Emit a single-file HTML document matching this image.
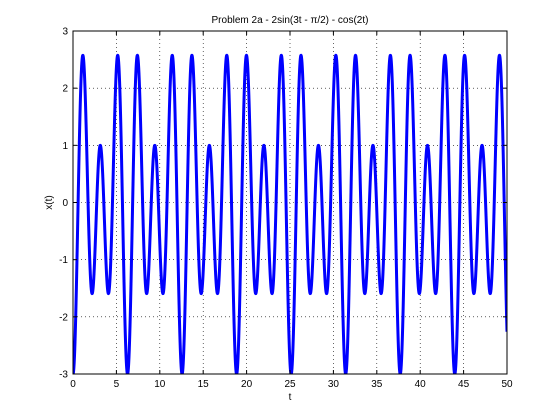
<!DOCTYPE html>
<html><head><meta charset="utf-8"><style>
html,body{margin:0;padding:0;background:#fff;}
svg{display:block;font-family:"Liberation Sans",sans-serif;}
</style></head><body>
<svg id="chart" width="560" height="420">
<rect width="560" height="420" fill="#fff"/>
</svg>
<script>
const xTicks=[0,5,10,15,20,25,30,35,40,45,50];
const yTicks=[-3,-2,-1,0,1,2,3];
// series: x(t) = sum amp[i]*cos(freq[i]*t)  (from 2sin(3t-pi/2)-cos(2t))
const amps=[-2,-1];
const freqs=[3,2];
const tRange=[0,50];
const nSamples=5001;
const L=73,R=507,T=31,B=374;
const xs=v=>L+(v-0)/(50-0)*(R-L);
const ys=v=>B-(v+3)/6*(B-T);
const svg=document.getElementById('chart');
const NS='http://www.w3.org/2000/svg';
function mk(tag,attrs,parent){const e=document.createElementNS(NS,tag);for(const k in attrs)e.setAttribute(k,attrs[k]);(parent||svg).appendChild(e);return e;}
const grid=mk('g',{});


xTicks.forEach(v=>{if(v>0&&v<50){mk('line',{x1:xs(v),x2:xs(v),y1:T,y2:B,stroke:'#000','stroke-width':0.6,'stroke-dasharray':'1,3'},grid);}});
yTicks.forEach(v=>{if(v>-3&&v<3){mk('line',{x1:L,x2:R,y1:ys(v),y2:ys(v),stroke:'#000','stroke-width':0.6,'stroke-dasharray':'1,3'},grid);}});
// series
let d='';
for(let i=0;i<nSamples;i++){const t=tRange[0]+(tRange[1]-tRange[0])*i/(nSamples-1);let x=0;for(let k=0;k<amps.length;k++)x+=amps[k]*Math.cos(freqs[k]*t);d+=(i?'L':'M')+xs(t).toFixed(2)+' '+ys(x).toFixed(2);}
const clip=mk('clipPath',{id:'cp'});mk('rect',{x:L,y:T,width:R-L,height:B-T},clip);
const line=mk('path',{d:d,fill:'none',stroke:'#0000ff','stroke-width':3,'clip-path':'url(#cp)','stroke-linejoin':'round'});


// axes box
const box=mk('rect',{x:L,y:T,width:R-L,height:B-T,fill:'none',stroke:'#000','stroke-width':1});


xTicks.forEach(v=>{
 mk('line',{x1:xs(v),x2:xs(v),y1:B,y2:B-4,stroke:'#000'});mk('line',{x1:xs(v),x2:xs(v),y1:T,y2:T+4,stroke:'#000'});
 const tx=mk('text',{x:xs(v),y:B+13,'font-size':10,'text-anchor':'middle'});tx.textContent=v;
 
 
});
yTicks.forEach(v=>{
 mk('line',{x1:L,x2:L+4,y1:ys(v),y2:ys(v),stroke:'#000'});mk('line',{x1:R,x2:R-4,y1:ys(v),y2:ys(v),stroke:'#000'});
 const tx=mk('text',{x:L-5,y:ys(v)+3.5,'font-size':10,'text-anchor':'end'});tx.textContent=v;
 
 
});
const title=mk('text',{x:(L+R)/2,y:23,'font-size':10,'text-anchor':'middle'});
title.textContent='Problem 2a - 2sin(3t -   \u03c0/2) - cos(2t)';


const xl=mk('text',{x:(L+R)/2,y:400,'font-size':10,'text-anchor':'middle'});
xl.textContent='t';


const yl=mk('text',{x:0,y:0,'font-size':10,'text-anchor':'middle',transform:'translate(52,'+((T+B)/2)+') rotate(-90)'});
yl.textContent='x(t)';


</script>
</body></html>
